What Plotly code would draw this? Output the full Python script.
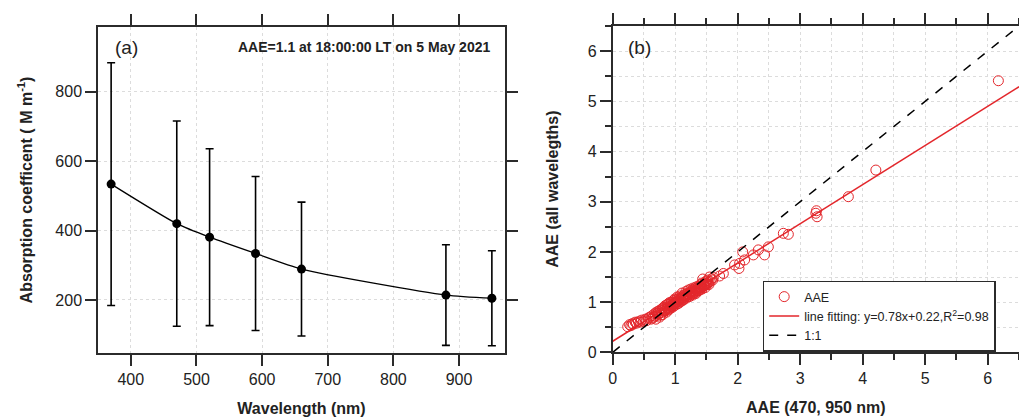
import plotly.graph_objects as go

# panel (a): absorption spectrum
wavelength_nm = [370, 470, 520, 590, 660, 880, 950]
babs = [534, 420, 381, 334, 289, 214, 205]
babs_err = [350, 296, 255, 222, 193, 145, 137]

# panel (b): AAE (470, 950 nm) vs AAE (all wavelengths)
aae_470_950 = [
    0.24, 0.27, 0.29, 0.31, 0.33, 0.36, 0.38, 0.41, 0.44, 0.46, 0.49, 0.52, 0.54, 0.57, 0.59, 0.61,
    0.63, 0.65, 0.67, 0.69, 0.70, 0.72, 0.73, 0.75, 0.76, 0.78, 0.79, 0.80, 0.81, 0.83, 0.84, 0.85,
    0.86, 0.87, 0.88, 0.89, 0.90, 0.91, 0.92, 0.93, 0.94, 0.95, 0.96, 0.97, 0.98, 0.99, 1.00, 1.01,
    1.02, 1.03, 1.04, 1.05, 1.06, 1.07, 1.08, 1.09, 1.10, 1.11, 1.12, 1.13, 1.14, 1.15, 1.16, 1.17,
    1.18, 1.19, 1.20, 1.21, 1.22, 1.23, 1.24, 1.25, 1.26, 1.27, 1.28, 1.29, 1.30, 1.31, 1.32, 1.33,
    1.34, 1.35, 1.36, 1.37, 1.38, 1.39, 1.40, 1.41, 1.42, 1.43, 1.44, 1.45, 1.46, 1.47, 1.48, 1.49,
    1.50, 1.51, 1.52, 1.53, 1.54, 1.55, 1.56, 1.58, 1.60, 1.61, 1.71, 1.77, 1.95, 2.02, 2.03, 2.08,
    2.11, 2.25, 2.33, 2.43, 2.49, 2.73, 2.81, 3.25, 3.26, 3.27, 3.77, 4.21, 6.17,
    0.64, 0.68, 0.71, 0.74, 0.77, 0.82, 0.84, 0.87, 0.89, 0.92, 0.94, 0.97, 0.99, 1.01, 1.03, 1.06,
    1.08, 1.11, 1.13, 1.16, 1.18, 1.21, 1.23, 1.26, 1.28, 1.31, 1.33, 1.36, 1.38, 1.41, 1.43, 1.46,
    1.48, 1.51,
]
aae_all = [
    0.51, 0.55, 0.53, 0.57, 0.56, 0.60, 0.58, 0.61, 0.60, 0.64, 0.62, 0.66, 0.63, 0.68, 0.70, 0.66,
    0.73, 0.70, 0.77, 0.66, 0.80, 0.74, 0.82, 0.70, 0.84, 0.79, 0.87, 0.75, 0.89, 0.82, 0.93, 0.85,
    0.80, 0.95, 0.88, 0.97, 0.86, 0.99, 0.92, 0.88, 1.00, 0.94, 0.90, 1.03, 0.96, 1.06, 0.97, 1.04,
    0.99, 1.10, 1.01, 1.07, 0.98, 1.12, 1.04, 1.09, 1.02, 1.18, 1.08, 1.13, 1.06, 1.15, 1.10, 1.21,
    1.12, 1.17, 1.11, 1.24, 1.16, 1.20, 1.14, 1.26, 1.18, 1.23, 1.17, 1.28, 1.21, 1.26, 1.19, 1.30,
    1.24, 1.28, 1.22, 1.32, 1.27, 1.30, 1.25, 1.35, 1.29, 1.38, 1.46, 1.31, 1.36, 1.33, 1.40, 1.35,
    1.42, 1.37, 1.44, 1.39, 1.35, 1.50, 1.41, 1.46, 1.44, 1.49, 1.52, 1.57, 1.74, 1.67, 1.77, 2.00,
    1.84, 1.94, 2.04, 1.94, 2.10, 2.37, 2.35, 2.77, 2.82, 2.70, 3.10, 3.63, 5.41,
    0.68, 0.72, 0.77, 0.78, 0.74, 0.86, 0.83, 0.90, 0.84, 0.96, 0.91, 0.98, 0.93, 1.00, 0.96, 1.05,
    1.01, 1.08, 1.04, 1.12, 1.08, 1.15, 1.11, 1.20, 1.14, 1.22, 1.17, 1.27, 1.23, 1.30, 1.26, 1.33,
    1.29, 1.35,
]
fit_slope = 0.78
fit_intercept = 0.22
fit_r2 = 0.98
axis_max_b = 6.5

RED = "#e3262b"
AX = "#2b2b2b"
GRID = "#dcdcdc"
FONT = "Liberation Sans, Arial, sans-serif"

fig = go.Figure()

fig.add_trace(go.Scatter(
    x=wavelength_nm, y=babs,
    error_y=dict(type="data", array=babs_err, color="black", thickness=1.6, width=4),
    mode="lines+markers",
    line=dict(color="black", width=1.3, shape="spline", smoothing=0.6),
    marker=dict(size=9, color="black"),
    showlegend=False, xaxis="x", yaxis="y",
))

fig.add_trace(go.Scatter(
    x=aae_470_950, y=aae_all, mode="markers", name="AAE",
    marker=dict(symbol="circle-open", size=10, color=RED, line=dict(width=1)),
    xaxis="x2", yaxis="y2",
))
fig.add_trace(go.Scatter(
    x=[0, axis_max_b], y=[fit_intercept, fit_intercept + fit_slope * axis_max_b],
    mode="lines", line=dict(color=RED, width=1.5),
    name=f"line fitting: y={fit_slope}x+{fit_intercept},R<sup>2</sup>={fit_r2}",
    xaxis="x2", yaxis="y2",
))
fig.add_trace(go.Scatter(
    x=[0, axis_max_b], y=[0, axis_max_b], mode="lines",
    line=dict(color="black", width=1.5, dash="dash"), name="1:1",
    xaxis="x2", yaxis="y2",
))

common = dict(
    showline=True, linecolor=AX, linewidth=1.5, ticks="outside", ticklen=11,
    tickwidth=1.5, tickcolor=AX, showgrid=True, gridcolor=GRID, griddash="dot",
    gridwidth=1, zeroline=False, automargin=False,
    tickfont=dict(size=16, color="#222"),
)

fig.update_layout(
    width=1019, height=417,
    margin=dict(l=0, r=0, t=0, b=0),
    plot_bgcolor="white", paper_bgcolor="white",
    font=dict(family=FONT, color="#222"),
    xaxis=dict(
        common, domain=[98 / 1019, 505 / 1019], range=[350, 970],
        tickvals=[400, 500, 600, 700, 800, 900], mirror="ticks",
        title=dict(text="<b>Wavelength (nm)</b>", font=dict(size=16), standoff=16),
        anchor="y",
    ),
    yaxis=dict(
        common, domain=[1 - 353 / 417, 1 - 27 / 417], range=[47, 987],
        tickvals=[200, 400, 600, 800], mirror="ticks",
        title=dict(text="<b>Absorption coefficent ( M m<sup>-1</sup>)</b>", font=dict(size=16), standoff=19),
        anchor="x",
    ),
    xaxis2=dict(
        common, domain=[612.7 / 1019, 1.0], range=[0, axis_max_b],
        dtick=1, tick0=0, mirror="allticks",
        minor=dict(dtick=0.5, ticklen=6, tickcolor=AX, tickwidth=1.5, showgrid=True,
                   gridcolor=GRID, griddash="dot"),
        title=dict(text="<b>AAE (470, 950 nm)</b>", font=dict(size=16), standoff=16),
        anchor="y2",
    ),
    yaxis2=dict(
        common, domain=[1 - 352.3 / 417, 1 - 26 / 417], range=[0, axis_max_b],
        dtick=1, tick0=0, mirror=False,
        minor=dict(dtick=0.5, ticklen=6, tickcolor=AX, tickwidth=1.5, showgrid=True,
                   gridcolor=GRID, griddash="dot"),
        title=dict(text="<b>AAE (all wavelegths)</b>", font=dict(size=16), standoff=25),
        anchor="x2",
    ),
    legend=dict(
        x=762.7 / 1019, y=1 - 316 / 417, xanchor="left", yanchor="middle",
        bordercolor=AX, borderwidth=1.5, bgcolor="white",
        font=dict(size=12.5, color="#222"), tracegroupgap=0,
    ),
    annotations=[
        dict(text="(a)", x=113 / 1019, y=1 - 48 / 417, xref="paper", yref="paper",
             xanchor="left", yanchor="middle", showarrow=False, font=dict(size=19)),
        dict(text="<b>AAE=1.1 at 18:00:00 LT on 5 May 2021</b>", x=492 / 1019, y=1 - 47 / 417,
             xref="paper", yref="paper", xanchor="right", yanchor="middle",
             showarrow=False, font=dict(size=14)),
        dict(text="(b)", x=626 / 1019, y=1 - 48 / 417, xref="paper", yref="paper",
             xanchor="left", yanchor="middle", showarrow=False, font=dict(size=19)),
    ],
)

# page has a default body margin; remove it so the figure sits at the window origin
fig.write_html("out.html", config={"displayModeBar": False},
               post_script="document.body.style.margin='0';")
